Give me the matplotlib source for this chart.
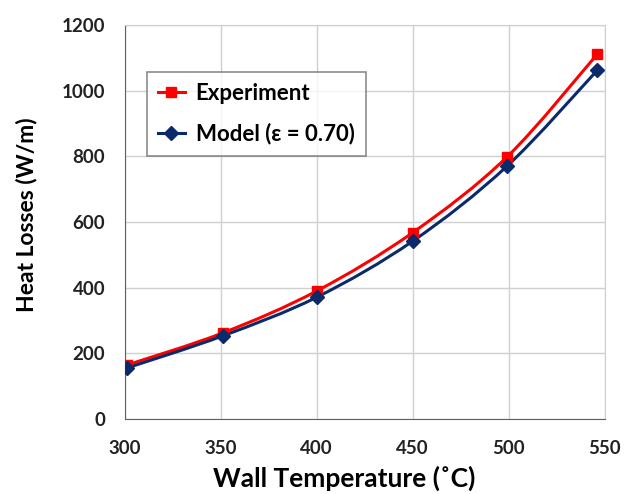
import matplotlib
matplotlib.use("Agg")
import matplotlib.pyplot as plt
from matplotlib.path import Path
from matplotlib.patches import PathPatch
import numpy as np

plt.rcParams['font.family'] = ['Lato', 'DejaVu Sans']

temps = [301, 351, 400, 450, 499, 546]
experiment = [164, 262, 390, 568, 798, 1111]
model = [155, 253, 371, 542, 770, 1062]
xticks = [300, 350, 400, 450, 500, 550]
yticks = [0, 200, 400, 600, 800, 1000, 1200]

def smooth_path(x, y):
    x = np.asarray(x, float); y = np.asarray(y, float)
    verts = [(x[0], y[0])]
    codes = [Path.MOVETO]
    n = len(x)
    for i in range(n - 1):
        p0 = np.array([x[max(i - 1, 0)], y[max(i - 1, 0)]])
        p1 = np.array([x[i], y[i]])
        p2 = np.array([x[i + 1], y[i + 1]])
        p3 = np.array([x[min(i + 2, n - 1)], y[min(i + 2, n - 1)]])
        c1 = p1 + (p2 - p0) / 6.0
        c2 = p2 - (p3 - p1) / 6.0
        verts += [tuple(c1), tuple(c2), tuple(p2)]
        codes += [Path.CURVE4] * 3
    return Path(verts, codes)

fig = plt.figure(figsize=(6.3, 4.94), dpi=100)
ax = fig.add_axes([0.198, 0.152, 0.762, 0.797])

red = '#FF0000'
navy = '#0B2A6B'

for xs, ys, col in [(temps, experiment, red), (temps, model, navy)]:
    ax.add_patch(PathPatch(smooth_path(xs, ys), fill=False, edgecolor=col, lw=2.2, zorder=3))

ax.plot(temps, experiment, linestyle='none', marker='s', ms=7, color=red, zorder=4)
ax.plot(temps, model, linestyle='none', marker='D', ms=7, color=navy, zorder=5)

h1, = ax.plot([], [], color=red, lw=2.2, marker='s', ms=7, label='Experiment')
h2, = ax.plot([], [], color=navy, lw=2.2, marker='D', ms=7, label='Model (ε = 0.70)')

ax.set_xlim(300, 550)
ax.set_ylim(0, 1200)
ax.set_xticks(xticks)
ax.set_yticks(yticks)
ax.grid(True, color='#D0D0D0', lw=1)
ax.set_axisbelow(True)
for s in ['top', 'right']:
    ax.spines[s].set_color('#D0D0D0')
for s in ['left', 'bottom']:
    ax.spines[s].set_color('#606060')
ax.tick_params(length=0, labelsize=13.5, colors='#222222')
ax.tick_params(axis='x', pad=15)
ax.tick_params(axis='y', pad=14)
for lab in ax.get_xticklabels() + ax.get_yticklabels():
    lab.set_fontweight('bold')

ax.set_xlabel('Wall Temperature (˚C)', fontsize=19, fontweight='bold')
ax.xaxis.set_label_coords(0.458, -0.118)
ax.set_ylabel('Heat Losses (W/m)', fontsize=16.5, fontweight='bold')
ax.yaxis.set_label_coords(-0.183, 0.518)

leg = ax.legend(handles=[h1, h2], loc='upper left', bbox_to_anchor=(0.046, 0.881),
                frameon=True, fancybox=False, edgecolor='#707070',
                prop={'weight': 'bold', 'size': 16}, handlelength=1.2,
                handletextpad=0.5, borderpad=0.5, labelspacing=0.85, borderaxespad=0)
leg.get_frame().set_linewidth(1.2)

fig.savefig('out.png', dpi=100)
